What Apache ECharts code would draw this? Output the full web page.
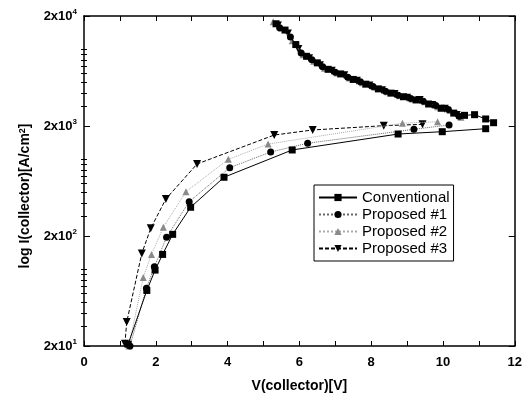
<!DOCTYPE html>
<html><head><meta charset="utf-8">
<script src="https://cdn.jsdelivr.net/npm/echarts@6/dist/echarts.min.js"></script>
<style>html,body{margin:0;padding:0;background:#fff}#c{width:525px;height:403px}</style>
</head><body><div id="c"></div>
<script>
// ---- data (V [V], I [A/cm^2]) ----
const seriesNames = ['Conventional', 'Proposed #1', 'Proposed #2', 'Proposed #3'];
const convV = [1.23, 1.75, 1.98, 2.19, 2.47, 2.97, 3.90, 5.80, 8.75, 9.98, 11.19];
const convI = [20.8, 64, 98, 136, 207, 365, 684, 1211, 1691, 1775, 1890];
const p1V = [1.28, 1.74, 1.96, 2.30, 2.93, 4.06, 5.20, 6.23, 9.19, 10.17];
const p1I = [20, 67, 105, 195, 410, 836, 1161, 1394, 1867, 2042];
const p2V = [1.25, 1.65, 1.88, 2.21, 2.84, 4.02, 5.13, 8.87, 9.85];
const p2I = [20, 84, 136, 240, 506, 995, 1371, 2118, 2188];
const p3V = [1.14, 1.19, 1.61, 1.86, 2.28, 3.15, 5.30, 6.37, 8.35, 9.43];
const p3I = [21, 33, 139, 235, 434, 903, 1656, 1840, 2013, 2070];
// breakdown (high-field) branch, markers of all devices overlap here
const convBdV = [5.35, 5.6, 5.9, 6.2, 6.5, 6.8, 7.15, 7.5, 7.85, 8.2, 8.55, 8.9, 9.25, 9.6, 9.95, 10.3, 10.6, 10.88, 11.19, 11.41];
const convBdI = [17000, 14900, 11000, 8600, 7500, 6550, 5950, 5300, 4800, 4350, 3980, 3690, 3450, 3170, 2900, 2620, 2500, 2535, 2317, 2143];
const p1BdV = [5.45, 5.75, 6.05, 6.35, 6.65, 7.0, 7.35, 7.7, 8.05, 8.4, 8.75, 9.1, 9.45, 9.8, 10.15, 10.45];
const p1BdI = [15600, 12900, 9200, 8000, 6900, 6150, 5550, 5050, 4580, 4130, 3810, 3550, 3360, 3070, 2820, 2450];
const p2BdV = [5.27, 5.5, 5.8, 6.1, 6.4, 6.7, 7.05, 7.4, 7.75, 8.1, 8.45, 8.8, 9.15, 9.5, 9.85, 10.2, 10.5];
const p2BdI = [17750, 15500, 11900, 8900, 7750, 6700, 6050, 5450, 4950, 4510, 4090, 3760, 3520, 3330, 3000, 2760, 2400];
const p3BdV = [5.4, 5.68, 5.97, 6.27, 6.57, 6.9, 7.25, 7.6, 7.95, 8.3, 8.65, 9.0, 9.35, 9.7, 10.05, 10.38];
const p3BdI = [16400, 13900, 10000, 8250, 7150, 6350, 5800, 5150, 4680, 4220, 3900, 3620, 3445, 3105, 2870, 2520];
const xTicks = [0, 2, 4, 6, 8, 10, 12];
const yTickLabels = ['2x10|1', '2x10|2', '2x10|3', '2x10|4'];

// ---- build ----
const FONT = 'Arial, "Liberation Sans", sans-serif';
const ty = v => Math.log10(v / 20);
const pts = (vs, is) => vs.map((v, i) => [v, ty(is[i])]);
const minorVals = [];
for (let k = 0; k < 3; k++) {
  [1.5, 2, 2.5, 3, 3.5, 4, 4.5, 5].forEach(m => minorVals.push(k + Math.log10(m)));
}
const styles = [
  { symbol: 'rect', size: 7, color: '#000', line: { type: 'solid', color: '#000', width: 1 } },
  { symbol: 'circle', size: 7, color: '#000', line: { type: 'dotted', color: '#666', width: 1 } },
  { symbol: 'triangle', size: 7, color: '#8a8a8a', line: { type: 'dotted', color: '#aaa', width: 1 } },
  { symbol: 'path://M0,0 L10,0 L5,9 Z', size: 8, color: '#000', line: { type: [4, 2], color: '#000', width: 1 } }
];
const mainData = [pts(convV, convI), pts(p1V, p1I), pts(p2V, p2I), pts(p3V, p3I)];
const bdData = [pts(convBdV, convBdI), pts(p1BdV, p1BdI), pts(p2BdV, p2BdI), pts(p3BdV, p3BdI)];
const series = [];
seriesNames.forEach((n, i) => {
  const s = styles[i];
  [mainData[i], bdData[i]].forEach(d => series.push({
    name: n, type: 'line', data: d, symbol: s.symbol, symbolSize: s.size,
    showAllSymbol: true,
    itemStyle: { color: s.color }, lineStyle: s.line, z: 5 - i
  }));
});
const axisLine = { show: true, onZero: false, lineStyle: { color: '#000', width: 1.5 } };
const grid = { left: 84, right: 10, top: 16, bottom: 57 };
const option = {
  animation: false,
  backgroundColor: '#fff',
  grid: grid,
  legend: {
    data: seriesNames, orient: 'vertical', left: 314, top: 185,
    width: 141, padding: [5, 4, 5, 4], itemGap: 2, itemWidth: 38, itemHeight: 9,
    borderColor: '#000', borderWidth: 1, backgroundColor: '#fff',
    textStyle: { fontFamily: FONT, fontSize: 15, color: '#000' }
  },
  xAxis: [
    { type: 'value', min: 0, max: 12, interval: 1, position: 'bottom',
      name: 'V(collector)[V]', nameLocation: 'middle', nameGap: 33,
      nameTextStyle: { fontFamily: FONT, fontSize: 14, fontWeight: 'bold', color: '#000' },
      axisLine: axisLine, splitLine: { show: false },
      axisTick: { inside: true, length: 5, lineStyle: { color: '#000', width: 1 } },
      axisLabel: { fontFamily: FONT, fontSize: 13, fontWeight: 'bold', color: '#000', margin: 10,
        formatter: v => (xTicks.indexOf(v) >= 0 ? String(v) : '') } },
    { type: 'value', min: 0, max: 12, interval: 1, position: 'top',
      axisLine: axisLine, splitLine: { show: false },
      axisTick: { inside: true, length: 5, lineStyle: { color: '#000' } }, axisLabel: { show: false } }
  ],
  yAxis: [
    { type: 'value', min: 0, max: 3, interval: 1, position: 'left',
      name: 'log I(collector)[A/cm{s|2}]', nameLocation: 'middle', nameGap: 52, nameRotate: 90,
      nameTextStyle: { fontFamily: FONT, fontSize: 14, fontWeight: 'bold', color: '#000', padding: [0, 30, 0, 0],
        rich: { s: { fontFamily: FONT, fontSize: 9, fontWeight: 'bold', verticalAlign: 'top', color: '#000' } } },
      axisLine: axisLine, splitLine: { show: false },
      axisTick: { inside: true, length: 6, lineStyle: { color: '#000' } },
      axisLabel: { margin: 7, fontFamily: FONT, fontSize: 13, fontWeight: 'bold', color: '#000',
        formatter: v => { const p = yTickLabels[Math.round(v)].split('|'); return '{a|' + p[0] + '}{s|' + p[1] + '}'; },
        rich: { a: { fontFamily: FONT, fontSize: 13, fontWeight: 'bold', color: '#000' },
                s: { fontFamily: FONT, fontSize: 8, fontWeight: 'bold', color: '#000', verticalAlign: 'top', padding: [0, 0, 8, 0] } } } },
    { type: 'value', min: 0, max: 3, position: 'left',
      axisLine: { show: false }, splitLine: { show: false }, axisLabel: { show: false },
      axisTick: { inside: true, length: 3, customValues: minorVals, lineStyle: { color: '#000' } } },
    { type: 'value', min: 0, max: 3, interval: 1, position: 'right',
      axisLine: axisLine, splitLine: { show: false }, axisLabel: { show: false },
      axisTick: { inside: true, length: 6, lineStyle: { color: '#000' } } },
    { type: 'value', min: 0, max: 3, position: 'right',
      axisLine: { show: false }, splitLine: { show: false }, axisLabel: { show: false },
      axisTick: { inside: true, length: 3, customValues: minorVals, lineStyle: { color: '#000' } } }
  ],
  series: series
};
const chart = echarts.init(document.getElementById('c'), null, { renderer: 'canvas' });
chart.setOption(option);
</script></body></html>
